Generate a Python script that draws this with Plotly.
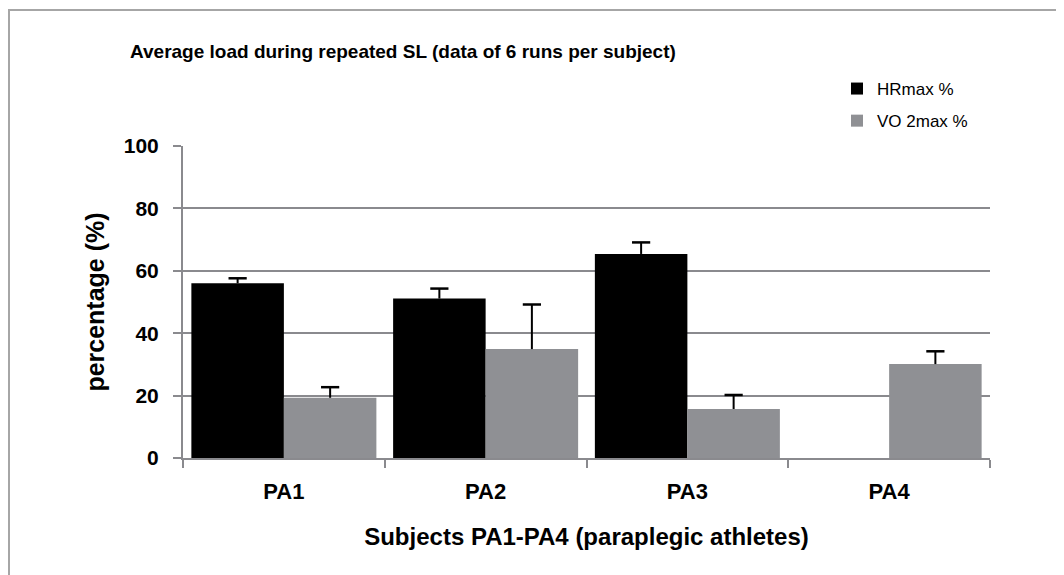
import plotly.graph_objects as go

categories = ["PA1", "PA2", "PA3", "PA4"]
hr_values = [56.0, 51.1, 65.4, None]
hr_err = [1.6, 3.2, 3.7, None]
vo2_values = [19.3, 34.9, 15.7, 30.1]
vo2_err = [3.4, 14.3, 4.5, 4.1]

FONT = "Liberation Sans, Arial, sans-serif"
GRID = "#8a8a8e"
W, H = 1056, 567
L, R, T, B = 175, 74, 138, 117
PW, PH = W - L - R, H - T - B


def tops(vals, errs):
    return [None if v is None or e is None else v + e for v, e in zip(vals, errs)]


fig = go.Figure()
for name, vals, errs, col, grp in [("HRmax %", hr_values, hr_err, "#000000", "a"),
                                   ("VO 2max %", vo2_values, vo2_err, "#8f9094", "b")]:
    fig.add_trace(go.Bar(
        x=categories, y=vals, name=name, legendgroup=grp, offsetgroup=grp,
        marker=dict(color=col, line=dict(width=0)),
    ))
for vals, errs, grp in [(hr_values, hr_err, "a"), (vo2_values, vo2_err, "b")]:
    fig.add_trace(go.Scatter(
        x=categories, y=tops(vals, errs), mode="markers", offsetgroup=grp,
        showlegend=False, hoverinfo="skip",
        marker=dict(symbol="line-ew", size=13, color="#000000",
                    line=dict(color="#000000", width=2.5)),
        error_y=dict(type="data", symmetric=False,
                     array=[0] * len(errs),
                     arrayminus=[0 if e is None else e for e in errs],
                     color="#000000", thickness=2, width=0),
    ))

fig.update_layout(
    width=W, height=H,
    margin=dict(l=L, r=R, t=T, b=B, autoexpand=False),
    paper_bgcolor="white", plot_bgcolor="white",
    barmode="group", bargap=0.083, bargroupgap=0,
    scattermode="group", scattergap=0.083,
    font=dict(family=FONT, color="#000000"),
    title=dict(text="<b>Average load during repeated SL (data of 6 runs per subject)</b>",
               x=122 / W, xanchor="left", y=1 - 43 / H, yanchor="middle",
               font=dict(size=19, family=FONT)),
    legend=dict(x=(829 - L) / PW, y=(PH + T - 63) / PH, xanchor="left", yanchor="top",
                font=dict(size=17, family=FONT), tracegroupgap=7,
                bgcolor="rgba(0,0,0,0)", itemwidth=30),
    xaxis=dict(
        showline=True, linecolor=GRID, linewidth=2,
        ticks="outside", tickson="boundaries", ticklen=8, tickwidth=2, tickcolor=GRID,
        tickfont=dict(size=22, family=FONT),
        tickprefix="<b>", ticksuffix="</b>",
        ticklabelstandoff=13,
        title=dict(text="<b>Subjects PA1-PA4 (paraplegic athletes)</b>",
                   font=dict(size=24, family=FONT), standoff=25),
    ),
    yaxis=dict(
        range=[0, 100], dtick=20, tick0=0,
        showgrid=True, gridcolor=GRID, gridwidth=2,
        showline=True, linecolor=GRID, linewidth=2,
        zeroline=False,
        ticks="outside", ticklen=8, tickwidth=2, tickcolor=GRID,
        tickfont=dict(size=21, family=FONT),
        tickprefix="<b>", ticksuffix="</b>",
        ticklabelstandoff=10,
        title=dict(text="<b>percentage (%)</b>", font=dict(size=25, family=FONT), standoff=12),
    ),
)

fig.add_shape(type="rect", xref="paper", yref="paper",
              x0=(1 - L) / PW, x1=(1049 - L) / PW,
              y0=(PH + T - 620) / PH, y1=(PH + T - 2) / PH,
              line=dict(color="#a6a6a6", width=2), fillcolor="rgba(0,0,0,0)", layer="below")

fig.write_html("out.html")
